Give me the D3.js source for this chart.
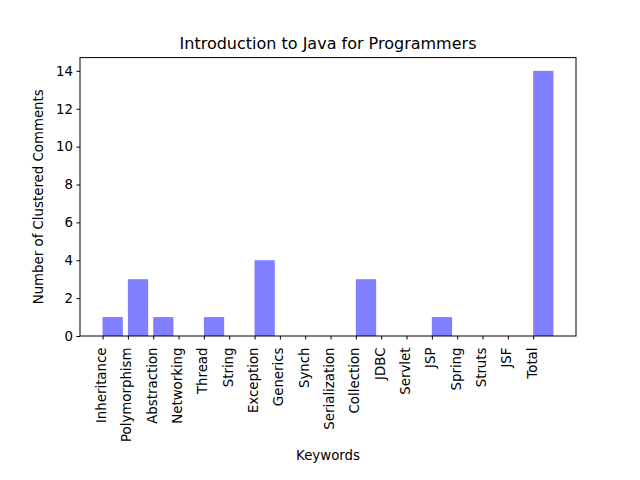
<!DOCTYPE html>
<html><head><meta charset="utf-8">
<script src="https://cdn.jsdelivr.net/npm/d3@7"></script>
<style>body{margin:0;background:#fff}text{font-family:"DejaVu Sans",sans-serif;fill:#000}</style>
</head><body>
<svg id="c" width="640" height="480"></svg>
<script>
const categories = ["Inheritance","Polymorphism","Abstraction","Networking","Thread","String","Exception","Generics","Synch","Serialization","Collection","JDBC","Servlet","JSP","Spring","Struts","JSF","Total"];
const values = [1,3,1,0,1,0,4,0,0,0,3,0,0,1,0,0,0,14];
const yTicks = [0,2,4,6,8,10,12,14];
const title = "Introduction to Java for Programmers";
const xLabel = "Keywords";
const yLabel = "Number of Clustered Comments";

const L=80,R=576,T=57.6,B=336;
const svg=d3.select("#c");
const n=categories.length, w=0.8;
const x=d3.scaleLinear().domain([0-0.05*(n-1+w),(n-1+w)*1.05]).range([L,R]);
const y=d3.scaleLinear().domain([0,14*1.05]).range([B,T]);

svg.selectAll("rect.bar").data(values).enter().append("rect")
  .attr("x",(d,i)=>x(i)).attr("width",(d,i)=>x(i+w)-x(i))
  .attr("y",d=>y(d)).attr("height",d=>y(0)-y(d))
  .attr("fill","#0000ff").attr("fill-opacity",0.5);

svg.append("rect").attr("x",L).attr("y",T).attr("width",R-L).attr("height",B-T)
  .attr("fill","none").attr("stroke","#000").attr("stroke-width",1);

const xa=d3.axisBottom(x).tickValues(d3.range(n)).tickFormat(i=>categories[i]).tickSize(3.5).tickPadding(3.5);
const gx=svg.append("g").attr("transform",`translate(0,${B})`).call(xa);
gx.select(".domain").remove();
gx.selectAll("text").attr("font-size","13.33px").attr("font-family","DejaVu Sans")
  .attr("text-anchor","end").attr("transform","rotate(-90)")
  .attr("x",-11.5).attr("y",0).attr("dy","0.22em");

const ya=d3.axisLeft(y).tickValues(yTicks).tickSize(3.5).tickPadding(3.5);
const gy=svg.append("g").attr("transform",`translate(${L},0)`).call(ya);
gy.select(".domain").remove();
gy.selectAll("text").attr("font-size","13.33px").attr("font-family","DejaVu Sans");

svg.append("text").attr("x",(L+R)/2).attr("y",49).attr("text-anchor","middle")
  .attr("font-size","16px").text(title);
svg.append("text").attr("x",(L+R)/2).attr("y",459.5).attr("text-anchor","middle")
  .attr("font-size","13.33px").text(xLabel);
svg.append("text").attr("transform",`translate(43,${(T+B)/2}) rotate(-90)`).attr("text-anchor","middle")
  .attr("font-size","13.33px").text(yLabel);
</script>
</body></html>
